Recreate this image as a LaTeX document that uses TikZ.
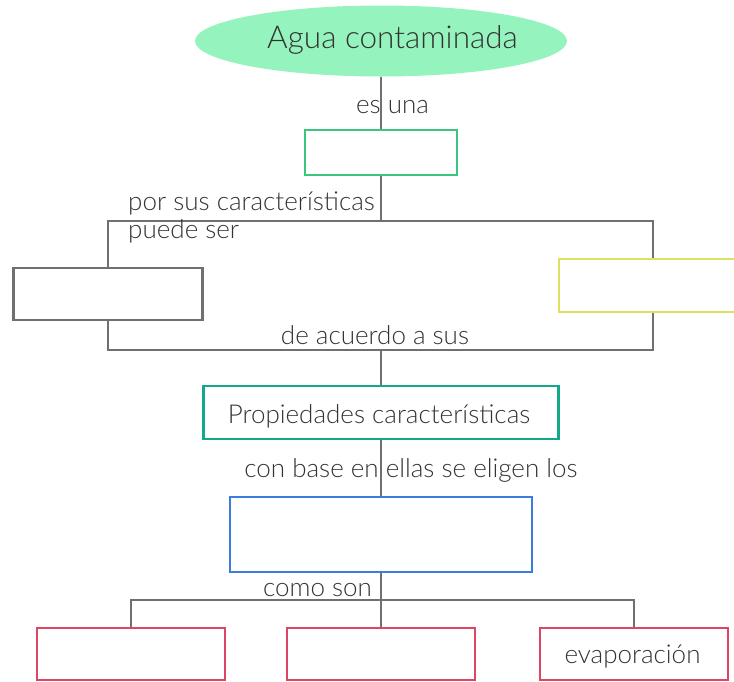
\documentclass[tikz,border=0pt]{standalone}
\usepackage{fontspec}
\setmainfont{Lato}[UprightFont=* Light]
\usetikzlibrary{shapes.geometric}

\definecolor{ovalgreen}{HTML}{95F4BE}
\definecolor{boxgreen}{HTML}{3CC67D}
\definecolor{boxyellow}{HTML}{E0E060}
\definecolor{boxteal}{HTML}{13A88A}
\definecolor{boxblue}{HTML}{3B7DDD}
\definecolor{boxred}{HTML}{DC4563}
\definecolor{linegray}{HTML}{707070}
\definecolor{textgray}{HTML}{333333}

\begin{document}
\begin{tikzpicture}[
        %We work in pixels, y going down
        x=1pt, y=-1pt,
        every node/.style={color=textgray, font=\fontsize{26}{30}\selectfont},
        link/.style={draw=linegray, line width=2.6pt},
        box/.style={draw=#1, line width=2.6pt, rectangle, inner sep=0pt},
        label text/.style={inner sep=0pt, anchor=base}
]
    \useasboundingbox (0,0) rectangle (734,681);
    \clip (0,0) rectangle (734,681);

    % The main concept
    \node[ellipse, fill=ovalgreen, minimum width=372, minimum height=71] (agua) at (381,41) {};
    \node[label text, font=\fontsize{31.5}{36}\selectfont] (aguatext) at (392.5,48) {Agua contaminada};

    % Boxes
    \node[box=boxgreen, minimum width=152, minimum height=45] (tipo) at (381,152.5) {};
    \node[box=linegray, minimum width=189, minimum height=52] (izq) at (108,294) {};
    \node[box=boxyellow, minimum width=188, minimum height=53] (der) at (653,285.5) {};
    \node[box=boxteal, minimum width=355, minimum height=53] (prop) at (381,412.5) {};
    \node[box=boxblue, minimum width=302, minimum height=75] (metodos) at (381,534.5) {};
    \node[box=boxred, minimum width=188, minimum height=52] (met1) at (131,654) {};
    \node[box=boxred, minimum width=188, minimum height=52] (met2) at (381,654) {};
    \node[box=boxred, minimum width=188, minimum height=52] (met3) at (634,654) {};

    % Important coordinates are defined
    \coordinate (split) at (381,221);
    \coordinate (join) at (381,350);
    \coordinate (fork) at (381,600);

    % connectors
    \draw[link] (agua) -- (tipo);
    \draw[link] (tipo) -- (split);
    \draw[link] (izq.north) |- (split) -| (der.north);
    \draw[link] (izq.south) |- (join) -| (der.south);
    \draw[link] (join) -- (prop);
    \draw[link] (prop) -- (metodos);
    \draw[link] (metodos) -- (fork);
    \draw[link] (met1.north) |- (fork) -| (met3.north);
    \draw[link] (fork) -- (met2);

    % Texts inside the boxes
    \node[label text] (proptext) at (379,423) {Propiedades características};
    \node[label text] (evap) at (632.5,663) {evaporación};

    % The link words are added
    \node[label text] (esuna) at (392.5,113) {es una};
    \node[label text, anchor=base west] (porsus) at (128,210) {por sus características};
    \node[label text, anchor=base west] (puede) at (128,238) {puede ser};
    \node[label text] (acuerdo) at (375,344) {de acuerdo a sus};
    \node[label text] (base) at (411,477) {con base en ellas se eligen los};
    \node[label text] (como) at (317.5,596) {como son};
\end{tikzpicture}
\end{document}
